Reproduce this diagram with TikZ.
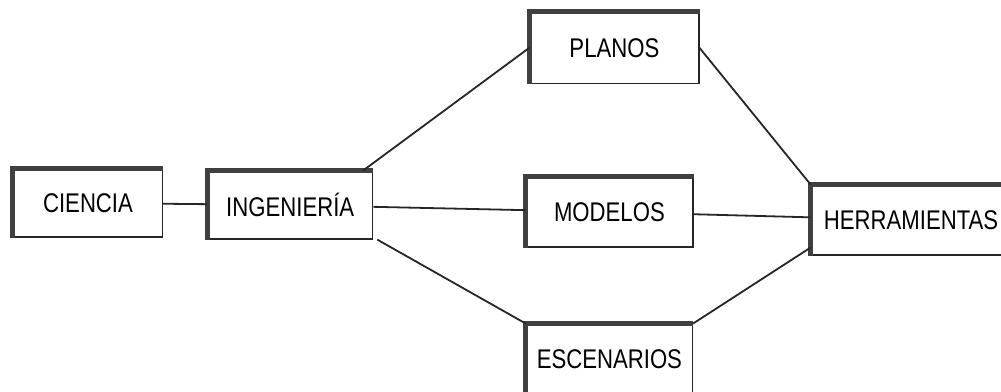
\documentclass[tikz,border=0pt]{standalone}
\usepackage{fontspec}
\newfontfamily\diagfont[FakeStretch=0.82]{Liberation Sans}
\usetikzlibrary{positioning}
\tikzset{
	caja/.style={
		rectangle,
		draw=black!85,
		line width=1.2pt,
		fill=white,
		align=center,
		minimum height=68pt,
		inner sep=0pt,
		font=\diagfont\fontsize{27}{27}\selectfont
	},
	sombra/.style={line width=5pt, draw=black!75},
	enlace/.style={line width=1.8pt, draw=black!85}
}

\begin{document}
\begin{tikzpicture}[x=1pt, y=-1pt]
			\clip (0,0) rectangle (1001,391);
			\draw node[caja, minimum width=149pt] (Ciencia) at (88,203) {CIENCIA};
			\draw node[caja, minimum width=165pt, right=44pt of Ciencia, yshift=-2pt] (Ingenieria) {INGENIERÍA};
			\draw node[caja, minimum width=167pt, minimum height=70pt, right=152pt of Ingenieria, yshift=-7pt] (Modelos) {MODELOS};
			\draw node[caja, minimum width=169pt, minimum height=72pt, above=92pt of Modelos, xshift=5pt] (Planos) {PLANOS};
			\draw node[caja, minimum width=166pt, minimum height=70pt, below=76pt of Modelos] (Escenarios) {ESCENARIOS};
			\draw node[caja, minimum width=200pt, minimum height=70pt, right=117pt of Modelos, yshift=-8pt] (Herramientas) {HERRAMIENTAS};
			
			\foreach \caja in {Ciencia, Ingenieria, Modelos, Planos, Escenarios, Herramientas}
				\draw[sombra] (\caja.south west) -- (\caja.north west) -- (\caja.north east);
			
			\draw[enlace] (Ciencia) -- (Ingenieria);
			\draw[enlace] ([xshift=-10pt] Ingenieria.north east) -- (Planos.west);
			\draw[enlace] (Ingenieria) -- (Modelos);
			\draw[enlace] ([xshift=4pt] Ingenieria.south east) -- (Escenarios.north west);
			\draw[enlace] (Planos.east) -- (Herramientas.north west);
			\draw[enlace] (Modelos) -- (Herramientas);
			\draw[enlace] (Escenarios.north east) -- ([yshift=8pt] Herramientas.south west);
		\end{tikzpicture}
\end{document}
